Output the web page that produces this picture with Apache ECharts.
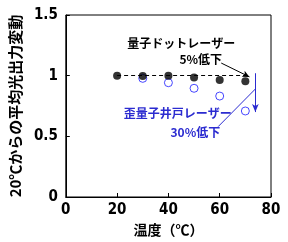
<!DOCTYPE html>
<html>
<head>
<meta charset="utf-8">
<script src="https://cdn.jsdelivr.net/npm/echarts@6/dist/echarts.min.js"></script>
<style>
  html, body { margin: 0; padding: 0; background: #fff; }
  #chart { width: 288px; height: 242px; }
</style>
</head>
<body>
<div id="chart"></div>
<script>
// 温度（℃）
var temps = [20, 30, 40, 50, 60, 70];
// 量子ドットレーザー（黒丸）
var qdValues = [1.0, 0.997, 1.0, 0.985, 0.965, 0.955];
// 歪量子井戸レーザー（白丸）
var qwTemps = [30, 40, 50, 60, 70];
var qwValues = [0.978, 0.942, 0.896, 0.832, 0.709];

var numFont = '"Liberation Sans Narrow", "DejaVu Sans Condensed", sans-serif';
var jpFont = '"Noto Sans CJK JP", sans-serif';
var blue = '#2b2bd0';

function pairs(xs, ys) {
  return xs.map(function (x, i) { return [x, ys[i]]; });
}

// 注記用のテキスト（データ座標で置く）
function note(text, x, y, color) {
  return {
    coord: [x, y],
    symbol: 'circle',
    symbolSize: 1,
    itemStyle: { color: 'transparent' },
    label: {
      show: true,
      position: 'inside',
      formatter: text,
      color: color,
      fontFamily: jpFont,
      fontWeight: 'bold',
      fontSize: 12
    }
  };
}

var chart = echarts.init(document.getElementById('chart'));
chart.setOption({
  animation: false,
  grid: {
    left: 61, right: 17, top: 15, bottom: 45,
    show: true, borderColor: '#000', borderWidth: 1
  },
  xAxis: {
    type: 'value',
    min: 0, max: 80, interval: 20,
    name: '温度（℃）',
    nameLocation: 'middle',
    nameGap: 26,
    nameTextStyle: { fontFamily: jpFont, fontWeight: 'bold', fontSize: 14, color: '#000' },
    axisLine: { show: true, lineStyle: { color: '#000', width: 1 } },
    axisTick: { show: true, inside: true, length: 4, lineStyle: { color: '#000' } },
    axisLabel: { fontFamily: numFont, fontWeight: 'bold', fontSize: 15, color: '#000', margin: 6 },
    splitLine: { show: false }
  },
  yAxis: {
    type: 'value',
    min: 0, max: 1.5, interval: 0.5,
    name: '20℃からの平均光出力変動',
    nameLocation: 'middle',
    nameRotate: 90,
    nameGap: 34,
    nameTextStyle: { fontFamily: jpFont, fontWeight: 'bold', fontSize: 15, color: '#000' },
    axisLine: { show: true, lineStyle: { color: '#000', width: 1 } },
    axisTick: { show: true, inside: true, length: 4, lineStyle: { color: '#000' } },
    axisLabel: { fontFamily: numFont, fontWeight: 'bold', fontSize: 15, color: '#000', margin: 8 },
    splitLine: { show: false }
  },
  series: [
    {
      name: '歪量子井戸レーザー',
      type: 'scatter',
      data: pairs(qwTemps, qwValues),
      symbol: 'circle',
      symbolSize: 8,
      itemStyle: { color: '#fff', borderColor: '#1a1aff', borderWidth: 1 },
      z: 2,
      markLine: {
        silent: true,
        label: { show: false },
        lineStyle: { color: blue, width: 1, type: 'solid' },
        symbolSize: [5, 8],
        data: [
          [{ coord: [73.9, 1.02], symbol: 'none' }, { coord: [73.9, 0.70], symbol: 'arrow' }],
          [{ coord: [59.4, 0.58], symbol: 'none' }, { coord: [73.9, 0.89], symbol: 'none' }]
        ]
      },
      markPoint: {
        silent: true,
        data: [
          note('歪量子井戸レーザー', 43.6, 0.692, blue),
          note('30%低下', 50.5, 0.53, blue)
        ]
      }
    },
    {
      name: '量子ドットレーザー',
      type: 'scatter',
      data: pairs(temps, qdValues),
      symbol: 'circle',
      symbolSize: 8,
      itemStyle: { color: '#000' },
      z: 3,
      markLine: {
        silent: true,
        label: { show: false },
        lineStyle: { color: '#000', width: 1 },
        symbolSize: [5, 7],
        data: [
          [{ coord: [20, 1.0], symbol: 'none', lineStyle: { type: [4, 3] } },
           { coord: [71.5, 1.0], symbol: 'none' }],
          [{ coord: [60.6, 1.104], symbol: 'none', lineStyle: { type: 'solid' } },
           { coord: [71.6, 0.99], symbol: 'arrow' }]
        ]
      },
      markPoint: {
        silent: true,
        data: [
          note('量子ドットレーザー', 45.0, 1.269, '#000'),
          note('5%低下', 52.6, 1.137, '#000')
        ]
      }
    }
  ]
});
</script>
</body>
</html>
